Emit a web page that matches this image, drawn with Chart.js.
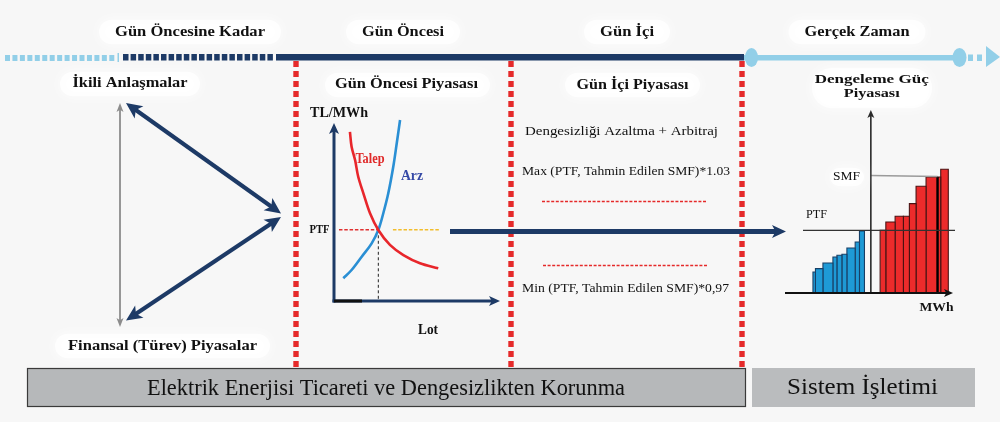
<!DOCTYPE html>
<html><head><meta charset="utf-8">
<script src="https://cdn.jsdelivr.net/npm/chart.js@4.4.1/dist/chart.umd.min.js"></script>
<style>
html,body{margin:0;padding:0;background:#f7f7f7;width:1000px;height:422px;overflow:hidden}
.c{position:absolute}
</style></head><body>
<div class="c" style="left:0;top:0;width:1000px;height:422px"><canvas id="main"></canvas></div>
<div class="c" style="left:290px;top:60px;width:220px;height:290px"><canvas id="sd"></canvas></div>
<div class="c" style="left:770px;top:60px;width:230px;height:270px"><canvas id="bm"></canvas></div>
<script>
// ---------- DATA ----------
const phases = ['Gün Öncesine Kadar', 'Gün Öncesi', 'Gün İçi', 'Gerçek Zaman'];
const leftLabels = ['İkili Anlaşmalar', 'Finansal (Türev) Piyasalar'];
const marketTitles = ['Gün Öncesi Piyasası', 'Gün İçi Piyasası', 'Dengeleme Güç', 'Piyasası'];
const intradayTexts = ['Dengesizliği Azaltma + Arbitraj', 'Max (PTF, Tahmin Edilen SMF)*1.03', 'Min (PTF, Tahmin Edilen SMF)*0,97'];
const bottomLabels = ['Elektrik Enerjisi Ticareti ve Dengesizlikten Korunma', 'Sistem İşletimi'];

// Day-ahead market curves (Lot vs TL/MWh, arbitrary units)
const talepLot   = [9.6, 10.6, 12.7, 14.6, 17.7, 21.7, 26.7, 33.7, 41.8, 51.8, 62.8];
const talepPrice = [95, 86.7, 79.2, 69.8, 60.5, 49.3, 39.9, 31.5, 25.8, 21.2, 18.4];
const arzLot     = [5.6, 10.6, 16.7, 22.7, 26.7, 29.7, 32.7, 35.7, 37.8, 39.8];
const arzPrice   = [12.8, 17.4, 24.9, 32.4, 39.9, 49.3, 60.5, 75.4, 88.6, 101.7];
const ptfPrice = 40;
const eqLot = 26.7;
const ptfRedFrom = 3, yellowFrom = 35.5, yellowTo = 64;

// Balancing power market bids (MWh offsets, prices)
const blueEdges   = [-58, -55.5, -48, -38, -34, -29, -24, -15.7, -11.4, -6.4];
const blueHeights = [21, 24.4, 30, 36, 37.7, 38.7, 45, 51, 62];
const redEdges    = [9.3, 15, 24.3, 32.6, 38.6, 45.3, 55.3, 66.8, 70, 77.6];
const redHeights  = [62.7, 71, 76.7, 76.7, 89.4, 106.7, 116, 116, 123.7];
const bmPTF = 62.7, bmSMF = 116.5;

// ---------- STYLE ----------
const NAVY = '#1d3a66', LB = '#92cfe8', RED = '#e52a2a', SERIF = '"Liberation Serif","DejaVu Serif",serif';

function label(ctx, s, cx, cy, o) {
  ctx.save();
  ctx.font = (o.bold ? 'bold ' : '') + o.size + 'px ' + SERIF;
  ctx.textAlign = o.align || 'center';
  ctx.textBaseline = 'middle';
  const w = ctx.measureText(s).width;
  ctx.translate(cx, cy);
  if (o.width) ctx.scale(o.width / w, 1);
  ctx.fillStyle = o.color || '#111';
  ctx.fillText(s, 0, 0);
  ctx.restore();
}
function blob(ctx, x, y, w, h) {
  ctx.save();
  ctx.fillStyle = 'rgba(255,255,255,0.8)'; ctx.shadowColor = '#ffffff'; ctx.shadowBlur = 14;
  ctx.beginPath(); ctx.roundRect(x, y, w, h, h / 2); ctx.fill();
  ctx.restore();
}
function head(ctx, x1, y1, x2, y2, len, wid, color) {
  const a = Math.atan2(y2 - y1, x2 - x1);
  ctx.save(); ctx.translate(x2, y2); ctx.rotate(a);
  ctx.beginPath(); ctx.moveTo(0, 0); ctx.lineTo(-len, -wid / 2); ctx.lineTo(-len * 0.75, 0); ctx.lineTo(-len, wid / 2); ctx.closePath();
  ctx.fillStyle = color; ctx.fill(); ctx.restore();
}
function arrow(ctx, x1, y1, x2, y2, lw, color, len, wid, both) {
  const a = Math.atan2(y2 - y1, x2 - x1), k = len * 0.7;
  ctx.save(); ctx.strokeStyle = color; ctx.lineWidth = lw; ctx.lineCap = 'butt';
  ctx.beginPath();
  ctx.moveTo(both ? x1 + Math.cos(a) * k : x1, both ? y1 + Math.sin(a) * k : y1);
  ctx.lineTo(x2 - Math.cos(a) * k, y2 - Math.sin(a) * k);
  ctx.stroke(); ctx.restore();
  head(ctx, x1, y1, x2, y2, len, wid, color);
  if (both) head(ctx, x2, y2, x1, y1, len, wid, color);
}

// ---------- MAIN DIAGRAM ----------
const phaseX = [190, 403, 627, 857], phaseW = [150, 82, 54, 105];
const dividerX = [296, 511, 742];

const diagram = {
  id: 'diagram',
  beforeDraw(chart) {
    const c = chart.ctx; c.save(); c.fillStyle = '#f7f7f7'; c.fillRect(0, 0, chart.width, chart.height); c.restore();
  },
  afterDraw(chart) {
    const c = chart.ctx;
    // label blobs
    phases.forEach((p, i) => blob(c, phaseX[i] - phaseW[i] / 2 - 16, 20, phaseW[i] + 32, 24));
    blob(c, 60, 72, 140, 24);
    blob(c, 325, 73, 165, 24);
    blob(c, 565, 73, 135, 24);
    blob(c, 55, 334, 215, 24);
    phases.forEach((p, i) => label(c, p, phaseX[i], 32, { size: 14, bold: true, width: phaseW[i] }));

    // timeline
    c.fillStyle = LB;
    for (let x = 5; x < 114; x += 7.45) c.fillRect(x, 55, 5, 6);
    c.fillRect(117.5, 53, 1.5, 9);
    c.fillStyle = NAVY;
    for (let x = 123; x < 272; x += 7.6) c.fillRect(x, 54, 5.5, 6.5);
    c.fillRect(276, 54, 468, 6.5);
    c.fillStyle = LB;
    c.fillRect(744, 55, 214, 5.5);
    c.beginPath(); c.ellipse(751.5, 57.5, 6.5, 9.5, 0, 0, Math.PI * 2); c.fill();
    c.beginPath(); c.ellipse(959.5, 57.5, 7, 9.5, 0, 0, Math.PI * 2); c.fill();
    c.fillRect(968, 54.5, 5, 6.5); c.fillRect(977, 54.5, 5, 6.5);
    c.beginPath(); c.moveTo(986, 46); c.lineTo(1000, 57); c.lineTo(986, 67); c.closePath(); c.fill();

    // red dashed dividers
    c.fillStyle = RED;
    dividerX.forEach(x => { for (let y = 61; y < 368; y += 10) c.fillRect(x - 2.7, y, 5.4, 6); });

    // left section
    label(c, leftLabels[0], 130, 83.5, { size: 14, bold: true, width: 115 });
    label(c, leftLabels[1], 162.5, 346, { size: 14, bold: true, width: 189 });
    arrow(c, 120, 103, 120, 327, 1.8, '#8c8c8c', 9, 7, true);
    arrow(c, 126, 103, 281, 213.5, 4, NAVY, 16, 15, true);
    arrow(c, 281, 217, 126, 320.5, 4, NAVY, 16, 15, true);

    // titles
    label(c, marketTitles[0], 406.5, 84, { size: 14, bold: true, width: 143 });
    label(c, marketTitles[1], 632.5, 85, { size: 14, bold: true, width: 112 });

    // intraday
    label(c, intradayTexts[0], 621.5, 132, { size: 13, width: 193 });
    label(c, intradayTexts[1], 626, 171.5, { size: 13, width: 208 });
    label(c, intradayTexts[2], 625.5, 288.5, { size: 13, width: 207 });
    c.save(); c.strokeStyle = RED; c.lineWidth = 1.6; c.setLineDash([3, 1.6]);
    c.beginPath(); c.moveTo(542, 201.5); c.lineTo(707, 201.5); c.moveTo(543, 265.5); c.lineTo(708, 265.5); c.stroke();
    c.restore();

    // long navy arrow PTF -> balancing
    arrow(c, 450, 231.5, 786, 231.5, 5, NAVY, 14, 13, false);

    // bottom boxes
    c.save();
    c.fillStyle = '#b6b8ba'; c.fillRect(27, 368, 719, 39);
    c.strokeStyle = '#3a3a3a'; c.lineWidth = 1.2; c.strokeRect(27.5, 368.5, 718, 38);
    c.fillStyle = '#babcbe'; c.fillRect(752, 368, 223, 39);
    c.restore();
    label(c, bottomLabels[0], 386, 388.5, { size: 24, width: 478 });
    label(c, bottomLabels[1], 862.5, 387.5, { size: 24, width: 151 });
  }
};

new Chart(document.getElementById('main'), {
  type: 'scatter',
  data: { datasets: [] },
  options: {
    responsive: true, maintainAspectRatio: false, animation: false, devicePixelRatio: 1,
    layout: { padding: 0 },
    plugins: { legend: { display: false }, tooltip: { enabled: false } },
    scales: { x: { display: false }, y: { display: false } }
  },
  plugins: [diagram]
});

// ---------- DAY-AHEAD SUPPLY/DEMAND ----------
const toPts = (xs, ys) => xs.map((x, i) => ({ x, y: ys[i] }));
const sdPlugin = {
  id: 'sdAxes',
  beforeDatasetsDraw(chart) {
    const c = chart.ctx, a = chart.chartArea;
    arrow(c, a.left, a.bottom + 1.5, a.left, a.top, 3, NAVY, 11, 10, false);
    arrow(c, a.left - 1.5, a.bottom, a.right, a.bottom, 3, NAVY, 11, 10, false);
    c.fillStyle = '#111'; c.fillRect(a.left, a.bottom - 1.5, 28, 3);
  },
  afterDraw(chart) {
    const c = chart.ctx, a = chart.chartArea, y = chart.scales.y;
    label(c, 'TL/MWh', a.left + 5, a.top - 10, { size: 14, bold: true, width: 58 });
    label(c, 'PTF', a.left - 14.5, y.getPixelForValue(ptfPrice), { size: 13, bold: true, width: 20 });
    label(c, 'Talep', 80, 99, { size: 14, bold: true, width: 29, color: '#e02a2a' });
    label(c, 'Arz', 122, 116, { size: 14, bold: true, width: 22, color: '#3549a6' });
    label(c, 'Lot', 138, 270, { size: 14, bold: true, width: 20 });
  }
};
new Chart(document.getElementById('sd'), {
  type: 'line',
  data: {
    datasets: [
      { data: toPts(talepLot, talepPrice), borderColor: '#e8262b', borderWidth: 2.6, tension: 0.35, pointRadius: 0, clip: false },
      { data: toPts(arzLot, arzPrice), borderColor: '#2a8fd4', borderWidth: 2.6, tension: 0.35, pointRadius: 0, clip: false },
      { data: [{ x: ptfRedFrom, y: ptfPrice }, { x: eqLot, y: ptfPrice }], borderColor: '#e03030', borderWidth: 1.5, borderDash: [3.5, 1.8], pointRadius: 0 },
      { data: [{ x: yellowFrom, y: ptfPrice }, { x: yellowTo, y: ptfPrice }], borderColor: '#f2bd2c', borderWidth: 1.5, borderDash: [3.5, 1.8], pointRadius: 0 },
      { data: [{ x: eqLot, y: ptfPrice }, { x: eqLot, y: 0 }], borderColor: '#222', borderWidth: 1, borderDash: [3, 2.5], pointRadius: 0 }
    ]
  },
  options: {
    responsive: true, maintainAspectRatio: false, animation: false, devicePixelRatio: 1,
    layout: { padding: { left: 44, top: 63, right: 10, bottom: 49 } },
    plugins: { legend: { display: false }, tooltip: { enabled: false } },
    scales: { x: { type: 'linear', display: false, min: 0, max: 100 }, y: { display: false, min: 0, max: 100 } }
  },
  plugins: [sdPlugin]
});

// ---------- BALANCING POWER MARKET ----------
function barSets(edges, heights, fill, edge) {
  return heights.map((h, i) => ({
    data: [{ x: edges[i], y: 0 }, { x: edges[i], y: h }, { x: edges[i + 1], y: h }, { x: edges[i + 1], y: 0 }],
    showLine: true, fill: 'origin', backgroundColor: fill, borderColor: edge, borderWidth: 1.1,
    pointRadius: 0, tension: 0, clip: false
  }));
}
const bmPlugin = {
  id: 'bmAxes',
  beforeDatasetsDraw(chart) {
    const c = chart.ctx;
    blob(c, 42, 8, 120, 40);
    label(c, marketTitles[2], 101.7, 20, { size: 13, bold: true, width: 114 });
    label(c, marketTitles[3], 101.7, 34, { size: 13, bold: true, width: 56 });
  },
  afterDatasetsDraw(chart) {
    const c = chart.ctx, x = chart.scales.x, y = chart.scales.y, a = chart.chartArea;
    const x0 = x.getPixelForValue(0), yb = y.getPixelForValue(0);
    // thick edge
    c.save(); c.strokeStyle = '#000'; c.lineWidth = 2.4;
    c.beginPath(); c.moveTo(x.getPixelForValue(redEdges[7]), yb); c.lineTo(x.getPixelForValue(redEdges[7]), y.getPixelForValue(redHeights[7])); c.stroke();
    // PTF line
    c.strokeStyle = '#333'; c.lineWidth = 1.3;
    c.beginPath(); c.moveTo(a.left + 18, y.getPixelForValue(bmPTF)); c.lineTo(a.right + 2, y.getPixelForValue(bmPTF)); c.stroke();
    // SMF line
    c.strokeStyle = '#9a9a9a'; c.lineWidth = 1.6;
    c.beginPath(); c.moveTo(x0, y.getPixelForValue(bmSMF + 1)); c.lineTo(x.getPixelForValue(redEdges[7]), y.getPixelForValue(bmSMF)); c.stroke();
    c.restore();
    // axes
    arrow(c, x0, yb, x0, a.top, 1.6, '#2a2a2a', 8, 7, false);
    arrow(c, a.left, yb, a.right, yb, 2.2, '#111', 9, 8, false);
    // labels
    blob(c, 60, 108, 34, 18);
    label(c, 'SMF', 76.5, y.getPixelForValue(bmSMF), { size: 12, width: 27 });
    label(c, 'PTF', 46.5, y.getPixelForValue(bmPTF) - 15, { size: 12, width: 21 });
    label(c, 'MWh', 166.5, 248, { size: 13, bold: true, width: 34 });
  }
};
new Chart(document.getElementById('bm'), {
  type: 'scatter',
  data: {
    datasets: [
      ...barSets(redEdges, redHeights, '#ec2b2b', '#4a1212'),
      ...barSets(blueEdges, blueHeights, '#1e9ad6', '#173f66')
    ]
  },
  options: {
    responsive: true, maintainAspectRatio: false, animation: false, devicePixelRatio: 1,
    layout: { padding: { left: 15, top: 50, right: 47, bottom: 37 } },
    plugins: { legend: { display: false }, tooltip: { enabled: false } },
    scales: { x: { type: 'linear', display: false, min: -86, max: 82.3 }, y: { display: false, min: 0, max: 183 } }
  },
  plugins: [bmPlugin]
});
</script>
</body></html>
